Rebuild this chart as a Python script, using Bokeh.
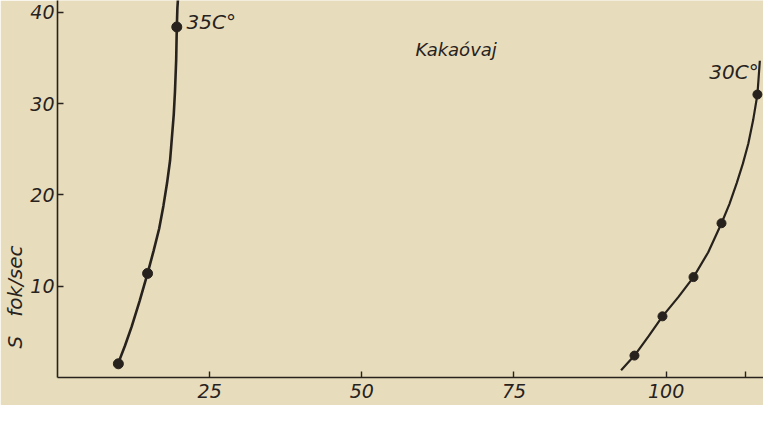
from bokeh.plotting import figure
from bokeh.models import FixedTicker, Range1d, Label
from bokeh.embed import file_html
from bokeh.resources import INLINE

# ---- data ----
x_ticks = [25, 50, 75, 100, 113]
x_tick_labels = {25: "25", 50: "50", 75: "75", 100: "100", 113: ""}
y_ticks = [10, 20, 30, 40]

# 35 C° series (measured points)
t35_x = [10.0, 14.8, 19.6]
t35_y = [1.5, 11.4, 38.4]
# 35 C° drawn curve (traced)
c35_x = [10.0, 11.1, 12.2, 13.5, 14.8, 15.8, 16.7, 17.4, 18.0, 18.5, 18.8, 19.1, 19.3, 19.5, 19.6, 19.7, 19.8]
c35_y = [1.6, 3.5, 5.6, 8.4, 11.4, 13.9, 16.3, 18.8, 21.3, 23.8, 26.3, 28.8, 31.3, 34.8, 38.3, 40.5, 41.5]

# 30 C° series (measured points)
t30_x = [94.8, 99.4, 104.5, 109.1, 115.0]
t30_y = [2.4, 6.7, 11.0, 16.9, 31.0]
# 30 C° drawn curve (traced)
c30_x = [92.6, 94.8, 97.1, 99.4, 102.0, 104.5, 106.9, 109.1, 110.4, 111.6, 112.6, 113.5, 114.3, 115.0, 115.4]
c30_y = [0.8, 2.4, 4.5, 6.7, 8.8, 11.0, 13.7, 16.9, 19.0, 21.3, 23.4, 25.6, 28.2, 31.0, 34.7]

title_text = "Kakaóvaj"
label35 = "35C°"
label30 = "30C°"
y_label = "S\u00a0\u00a0\u00a0fok/sec"

PAPER = "#e7dcbb"
INK = "#27221d"
FONT = "DejaVu Sans"

p = figure(width=763, height=405, output_backend="svg", toolbar_location=None,
           x_range=Range1d(0, 116), y_range=Range1d(0, 41.3),
           min_border_left=50, min_border_right=0, min_border_top=0, min_border_bottom=28)
p.background_fill_color = PAPER
p.border_fill_color = PAPER
p.outline_line_color = None
p.xgrid.visible = False
p.ygrid.visible = False

for ax in (p.xaxis[0], p.yaxis[0]):
    ax.axis_line_color = INK
    ax.axis_line_width = 1.6
    ax.major_tick_line_color = INK
    ax.major_tick_line_width = 1.4
    ax.major_tick_in = 6
    ax.major_tick_out = 0
    ax.minor_tick_line_color = None
    ax.major_label_text_font = FONT
    ax.major_label_text_font_style = "italic"
    ax.major_label_text_font_size = "19px"
    ax.major_label_text_color = INK

p.xaxis.ticker = FixedTicker(ticks=x_ticks)
p.xaxis.major_label_overrides = x_tick_labels
p.xaxis.major_label_standoff = 6
p.yaxis.ticker = FixedTicker(ticks=y_ticks)
p.yaxis.major_label_standoff = 3
p.yaxis.axis_label = y_label + "\u00a0" * 34
p.yaxis.axis_label_text_font = FONT
p.yaxis.axis_label_text_font_style = "italic"
p.yaxis.axis_label_text_font_size = "20px"
p.yaxis.axis_label_text_color = INK
p.yaxis.axis_label_standoff = 0

p.line(c35_x, c35_y, line_color=INK, line_width=2.6)
p.line(c30_x, c30_y, line_color=INK, line_width=2.2)
p.scatter(t35_x, t35_y, size=10, fill_color=INK, line_color=INK)
p.scatter(t30_x, t30_y, size=9, fill_color=INK, line_color=INK)

p.add_layout(Label(x=21.2, y=38.9, text=label35, text_font=FONT, text_font_style="italic",
                   text_font_size="20px", text_color=INK, text_baseline="middle"))
p.add_layout(Label(x=115.2, y=33.5, text=label30, text_font=FONT, text_font_style="italic",
                   text_font_size="20px", text_color=INK, text_baseline="middle", text_align="right"))
p.add_layout(Label(x=65.5, y=35.9, text=title_text, text_font=FONT, text_font_style="italic",
                   text_font_size="18px", text_color=INK, text_baseline="middle", text_align="center"))

open("out.html", "w").write(file_html(p, INLINE))
